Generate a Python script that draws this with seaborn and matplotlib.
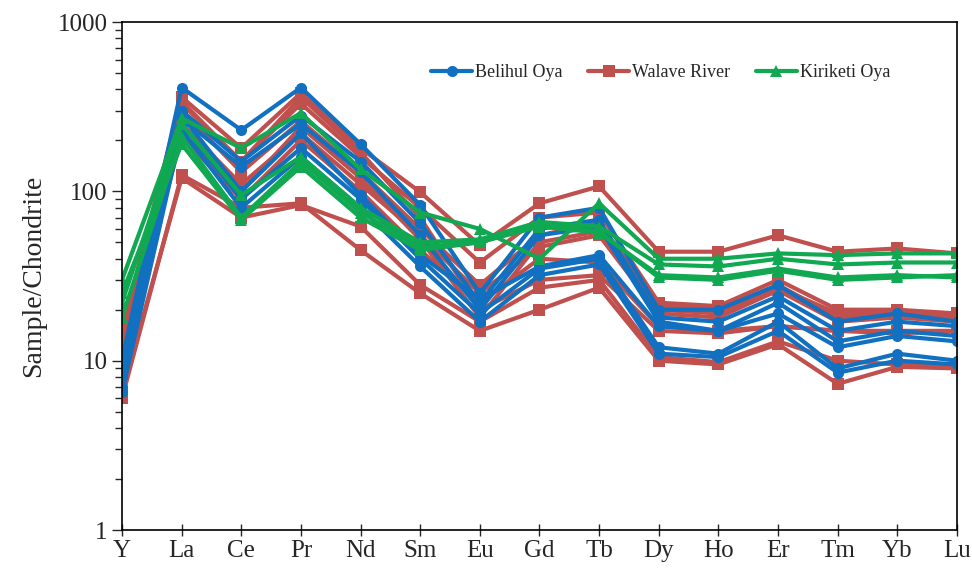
import pandas as pd
import seaborn as sns
import matplotlib.pyplot as plt
from matplotlib.ticker import LogLocator, NullFormatter, FixedLocator

# REE elements on the x axis
elements = ['Y', 'La', 'Ce', 'Pr', 'Nd', 'Sm', 'Eu', 'Gd', 'Tb', 'Dy', 'Ho', 'Er', 'Tm', 'Yb', 'Lu']

# Chondrite normalised values
belihul = [
    [10, 410, 230, 410, 190, 83, 25, 70, 80, 20, 20, 28, 17, 19, 17],
    [9, 300, 150, 280, 150, 65, 22, 60, 68, 18, 17, 24, 15, 17, 16],
    [8, 270, 140, 250, 130, 55, 20, 55, 62, 17, 15, 22, 13, 15, 14],
    [7, 250, 90, 180, 90, 40, 19, 35, 40, 12, 11, 17, 9, 11, 10],
    [6.5, 230, 80, 160, 80, 36, 17, 32, 37, 11, 10.5, 15, 8.5, 10, 9.5],
    [10, 280, 100, 220, 95, 42, 23, 36, 42, 16, 15, 19, 12, 14, 13],
]
walave = [
    [15, 360, 180, 380, 180, 99, 48, 85, 107, 44, 44, 55, 44, 46, 43],
    [13, 330, 150, 330, 160, 80, 38, 70, 75, 22, 21, 30, 20, 20, 19],
    [12, 300, 130, 260, 130, 60, 28, 55, 65, 21, 20, 28, 18, 19, 18],
    [11, 250, 110, 220, 110, 55, 25, 47, 55, 19, 18, 26, 17, 18, 17],
    [10, 210, 90, 200, 100, 45, 22, 40, 38, 16, 15, 16, 15, 15, 15],
    [6, 125, 80, 85, 45, 25, 15, 20, 27, 10, 9.5, 12.5, 7.3, 9.2, 9],
    [6.5, 120, 70, 83, 62, 28, 17, 27, 30, 10.5, 9.8, 13, 10, 9.5, 9.3],
    [14, 340, 150, 360, 170, 70, 20, 30, 32, 15, 14.5, 16, 15, 14.5, 15],
    [12, 220, 100, 240, 120, 52, 18, 50, 58, 20, 19, 27, 19, 19.5, 19],
]
kiriketi = [
    [30, 270, 180, 290, 135, 75, 60, 40, 85, 40, 40, 43, 42, 43, 43],
    [22, 250, 95, 160, 80, 50, 52, 66, 62, 37, 36, 40, 37, 38, 38],
    [18, 210, 70, 150, 75, 47, 50, 64, 58, 31, 30, 34, 30, 31, 32],
    [25, 190, 68, 140, 70, 45, 50, 62, 57, 32, 31, 35, 31, 32, 31],
]

groups = {'Belihul Oya': belihul, 'Walave River': walave, 'Kiriketi Oya': kiriketi}
colors = {'Belihul Oya': '#1170C0', 'Walave River': '#C0504D', 'Kiriketi Oya': '#10A850'}
markers = {'Belihul Oya': 'o', 'Walave River': 's', 'Kiriketi Oya': '^'}
legend_order = ['Belihul Oya', 'Walave River', 'Kiriketi Oya']
draw_order = ['Walave River', 'Belihul Oya', 'Kiriketi Oya']

rows = []
for g, samples in groups.items():
    for i, vals in enumerate(samples):
        for j, v in enumerate(vals):
            rows.append({'pos': j, 'value': v, 'group': g, 'sample': f'{g}_{i}'})
df = pd.DataFrame(rows)

sns.set_style('white')
plt.rcParams['font.family'] = ['Liberation Serif', 'DejaVu Serif']

fig = plt.figure(figsize=(9.72, 5.73), dpi=100)
ax = fig.add_axes([0.1255, 0.075, 0.859, 0.8866])

for g in draw_order:
    sns.lineplot(data=df[df['group'] == g], x='pos', y='value', hue='group', style='group',
                 units='sample', estimator=None, palette=colors, markers=markers, dashes=False,
                 linewidth=3, markersize=8, markeredgewidth=0, ax=ax, legend=True)

ax.set_yscale('log')
ax.set_ylim(1, 1000)
ax.set_xlim(0, len(elements) - 1)
ax.xaxis.set_major_locator(FixedLocator(range(len(elements))))
ax.set_xticklabels(elements)
ax.yaxis.set_major_locator(LogLocator(base=10))
ax.yaxis.set_minor_locator(LogLocator(base=10, subs=range(2, 10)))
ax.yaxis.set_minor_formatter(NullFormatter())
ax.set_yticks([1, 10, 100, 1000])
ax.set_yticklabels(['1', '10', '100', '1000'])

ax.set_xlabel('')
ax.set_ylabel('Sample/Chondrite', fontsize=20, labelpad=8)
ax.tick_params(axis='x', direction='inout', length=9, width=1, labelsize=18, pad=3, bottom=True)
ax.tick_params(axis='y', which='major', direction='out', length=7, width=1, labelsize=18, left=True)
ax.tick_params(axis='y', which='minor', direction='out', length=5, width=1, left=True)
for s in ax.spines.values():
    s.set_color('black')
    s.set_linewidth(1.2)

handles, labels = ax.get_legend_handles_labels()
lookup = dict(zip(labels, handles))
ax.legend([lookup[l] for l in legend_order], legend_order, loc='center',
          bbox_to_anchor=(0.645, 0.90), ncol=3, frameon=False, fontsize=13,
          handlelength=2.3, columnspacing=1.4, handletextpad=0.15)

fig.savefig('out.png', dpi=100)
